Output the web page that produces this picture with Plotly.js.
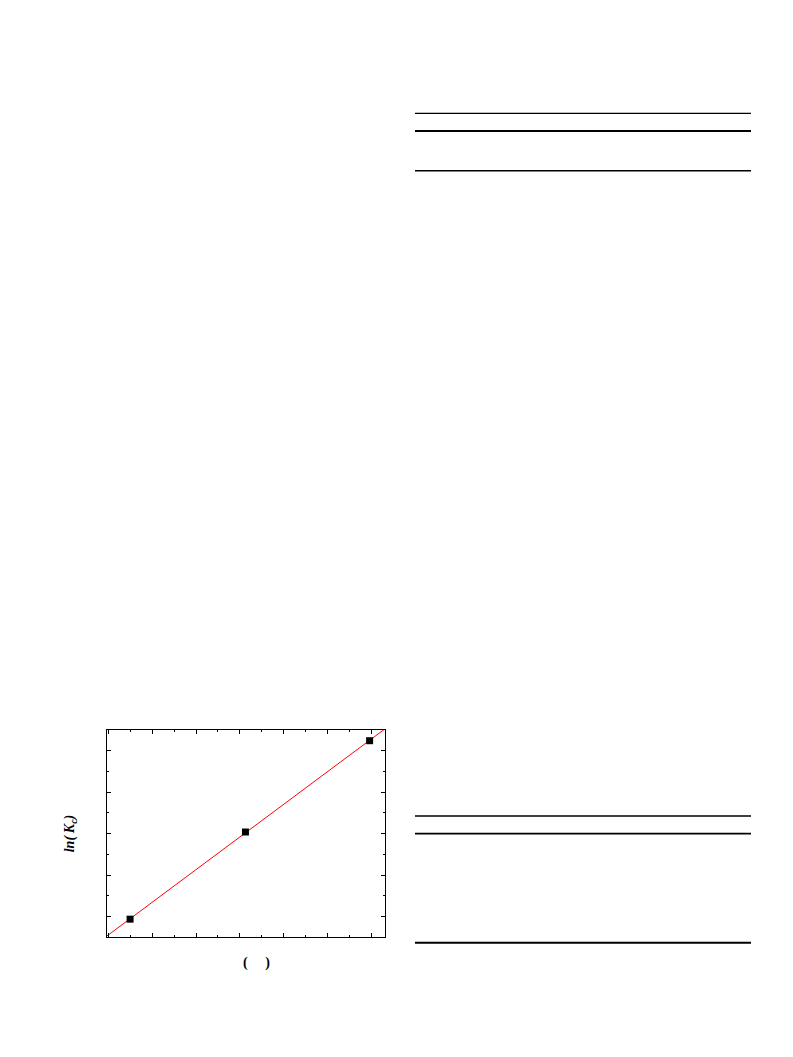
<!DOCTYPE html>
<html>
<head>
<meta charset="utf-8">
<script src="https://cdn.plot.ly/plotly-3.0.1.min.js"></script>
<style>
html, body { margin: 0; padding: 0; background: #fff; }
#chart { width: 793px; height: 1057px; }
</style>
</head>
<body>
<div id="chart"></div>
<script>
// Data (x: 1000/T, y: ln(Kc))
var invT = [3.195, 3.300, 3.413];
var lnKc = [0.97, 2.02, 3.12];
var xTitle = "(\u00a0\u00a0\u00a0\u00a0\u00a0)";
var yTitle = "ln(\u2009<i>K</i><sub>c</sub>)";

// least-squares fit line
function fit(x, y) {
  var n = x.length, mx = 0, my = 0;
  for (var i = 0; i < n; i++) { mx += x[i]; my += y[i]; }
  mx /= n; my /= n;
  var sxy = 0, sxx = 0;
  for (var j = 0; j < n; j++) { sxy += (x[j]-mx)*(y[j]-my); sxx += (x[j]-mx)*(x[j]-mx); }
  var b = sxy / sxx;
  return {slope: b, intercept: my - b*mx};
}
var f = fit(invT, lnKc);
var xr = [3.174, 3.427];
var fitX = [3.16, 3.44];
var fitY = fitX.map(function (v) { return f.intercept + f.slope * v; });

var traces = [
  {x: fitX, y: fitY, mode: 'lines', line: {color: '#ff0000', width: 1}, hoverinfo: 'skip'},
  {x: invT, y: lnKc, mode: 'markers', marker: {symbol: 'square', size: 7, color: '#000000'}}
];

// plot area: x 107..385, y 730..937 px
var L = 107, R = 385, T = 730, B = 937;
function px(p) { return (p - L) / (R - L); }
function py(p) { return (B - p) / (B - T); }
function rule(y, w) {
  return {type: 'line', xref: 'paper', yref: 'paper', x0: px(415), x1: px(751), y0: py(y), y1: py(y),
          line: {color: '#000', width: w}};
}

var layout = {
  width: 793, height: 1057,
  margin: {l: L, r: 793 - R, t: T, b: 1057 - B, pad: 0},
  paper_bgcolor: '#fff', plot_bgcolor: '#fff',
  showlegend: false,
  font: {family: 'Liberation Serif', color: '#000'},
  xaxis: {
    range: xr, showgrid: false, zeroline: false,
    showline: true, linecolor: '#000', linewidth: 1, mirror: 'ticks',
    ticks: 'inside', ticklen: 4, tickwidth: 1, tickcolor: '#000',
    tick0: 3.215, dtick: 0.04, showticklabels: false,
    minor: {ticks: 'inside', ticklen: 2, tickwidth: 1, tickcolor: '#000', dtick: 0.02, tick0: 3.195, showgrid: false},
    automargin: false
  },
  yaxis: {
    range: [0.755, 3.249], showgrid: false, zeroline: false,
    showline: true, linecolor: '#000', linewidth: 1, mirror: 'ticks',
    ticks: 'inside', ticklen: 4, tickwidth: 1, tickcolor: '#000',
    tick0: 1.0, dtick: 0.5, showticklabels: false,
    minor: {ticks: 'inside', ticklen: 2, tickwidth: 1, tickcolor: '#000', dtick: 0.25, tick0: 0.75, showgrid: false},
    title: {text: yTitle, font: {size: 14, family: 'Liberation Serif', weight: 'bold', style: 'italic'}, standoff: 28},
    automargin: false
  },
  annotations: [
    {text: xTitle, xref: 'paper', yref: 'paper', x: px(256), y: py(963), xanchor: 'center', yanchor: 'middle',
     showarrow: false, font: {size: 14, family: 'Liberation Serif', weight: 'bold'}}
  ],
  shapes: [
    rule(113.3, 1.3), rule(131, 2), rule(170.7, 1.5),
    rule(816, 1.3), rule(833.7, 1.7), rule(942.7, 2)
  ]
};

Plotly.newPlot('chart', traces, layout, {staticPlot: true, displayModeBar: false});
</script>
</body>
</html>
